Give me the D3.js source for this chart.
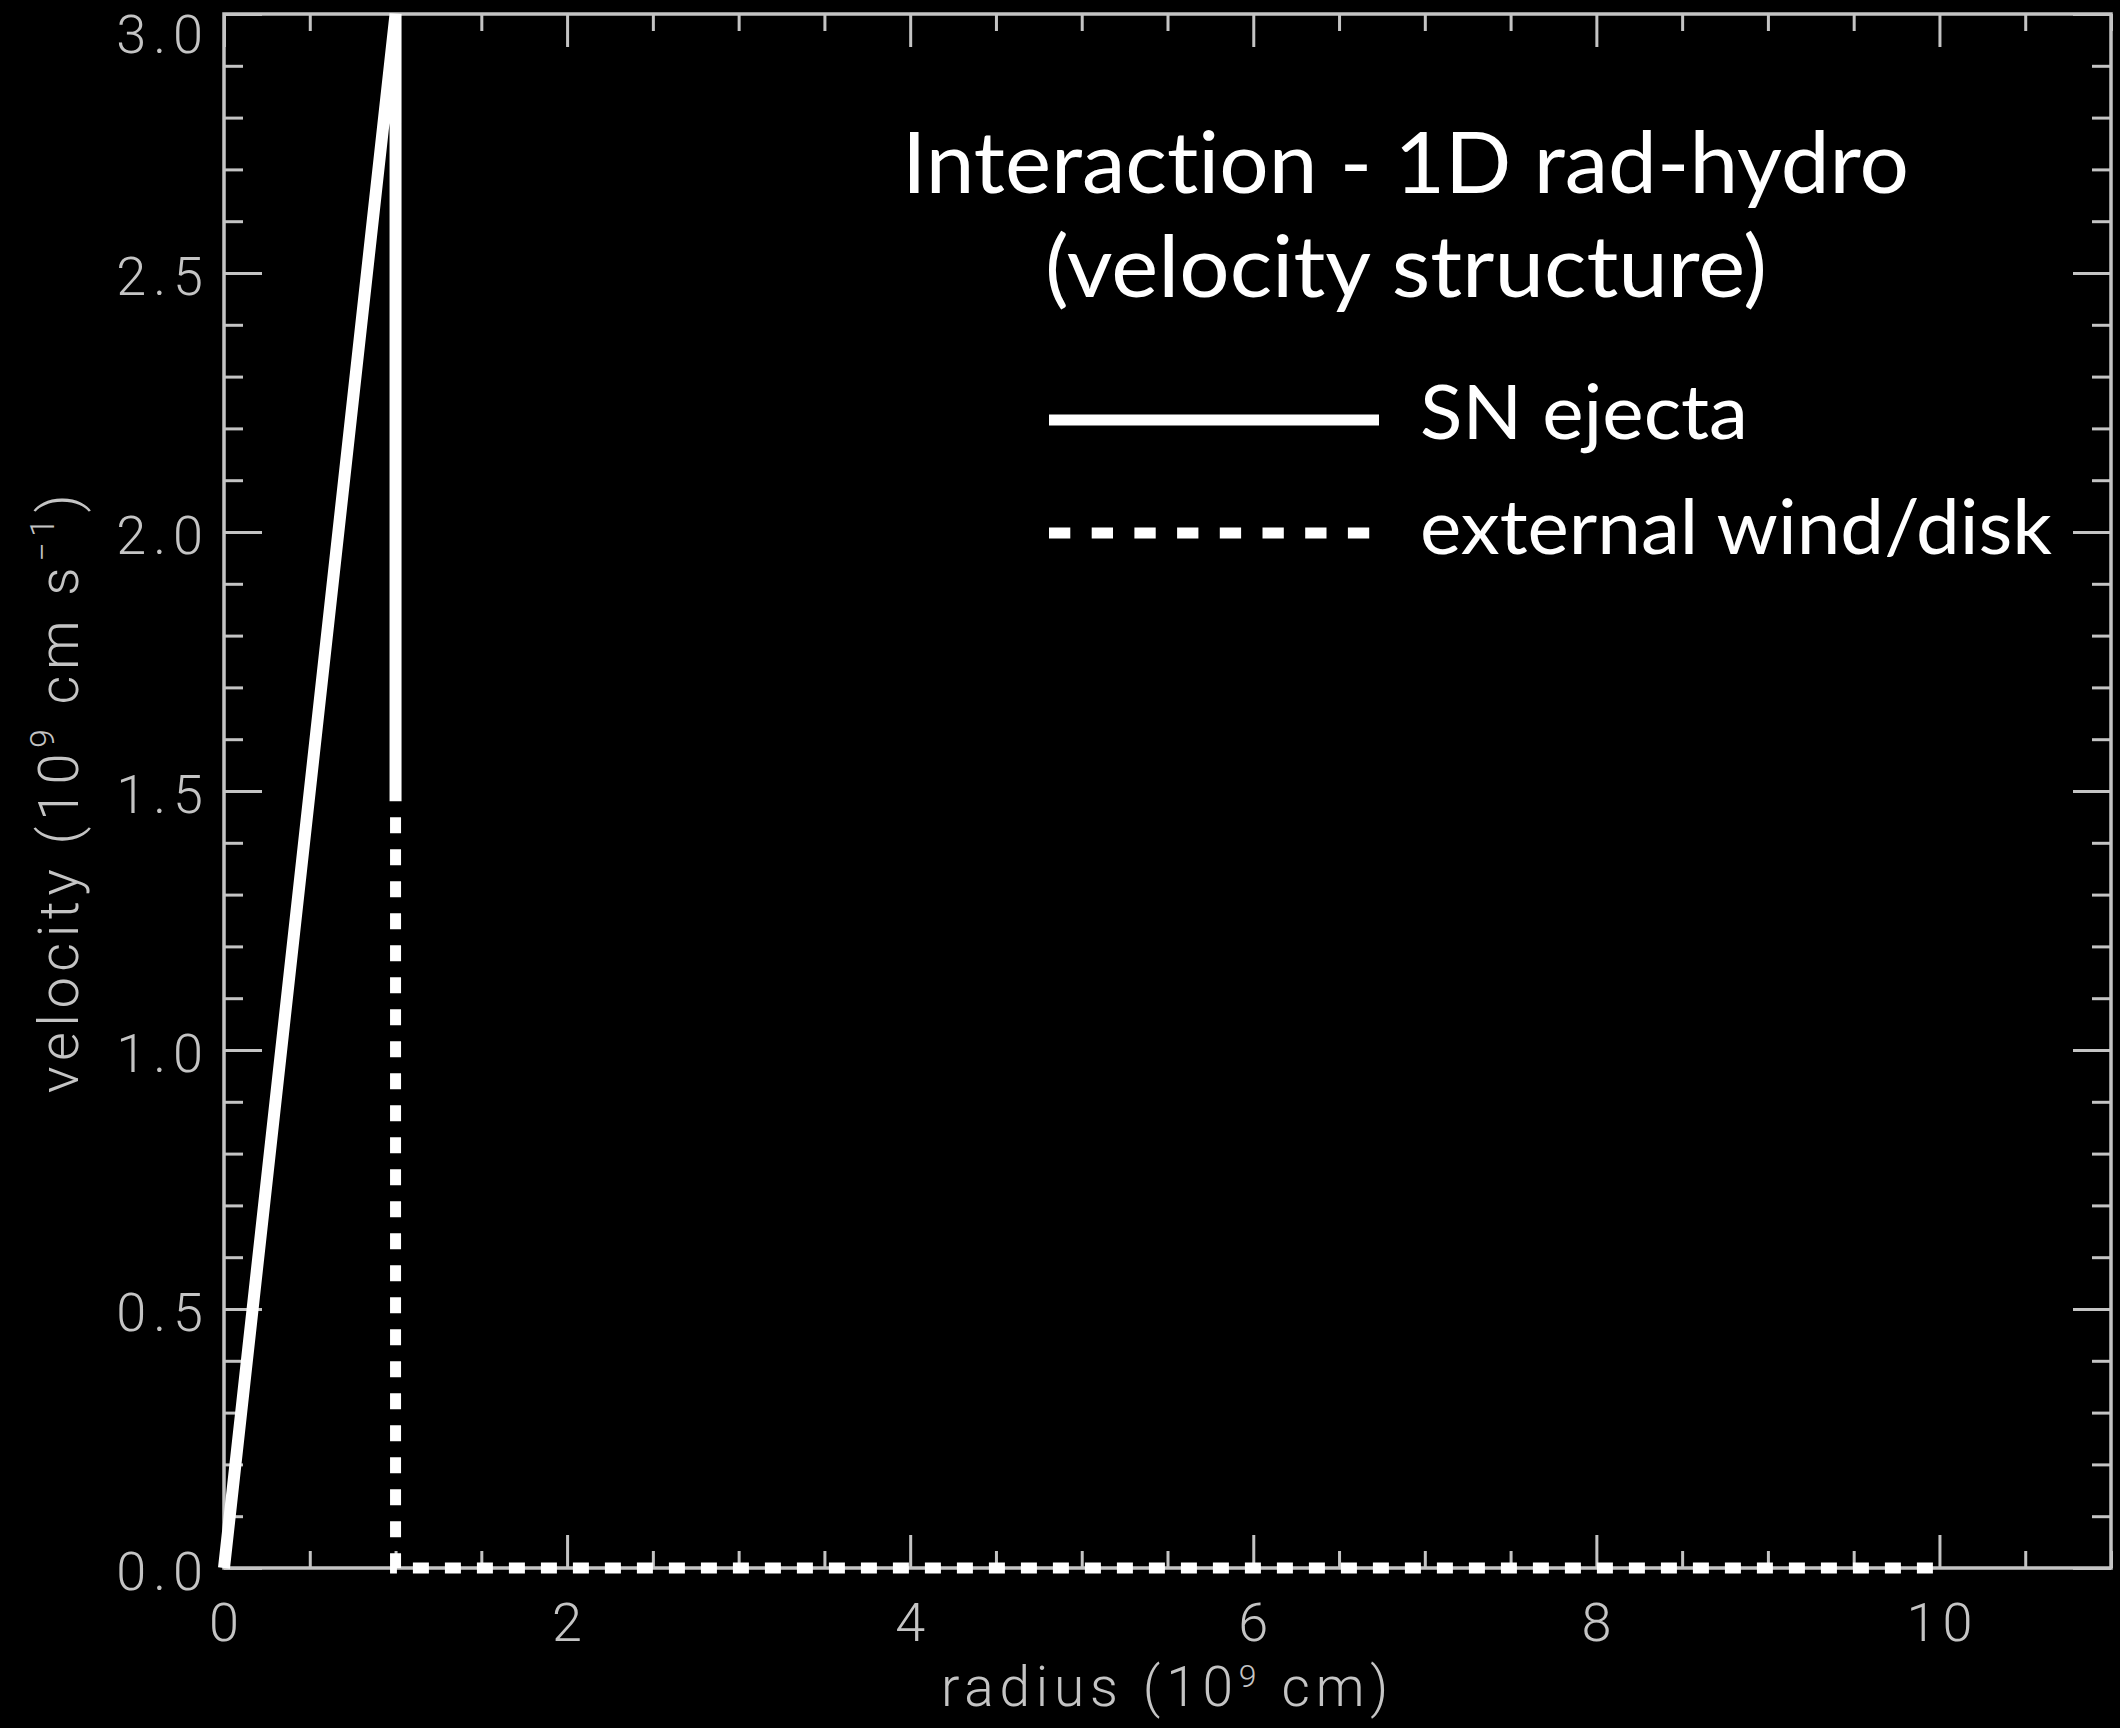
<!DOCTYPE html>
<html>
<head>
<meta charset="utf-8">
<script src="https://cdn.jsdelivr.net/npm/d3@7"></script>
<style>
  html, body { margin: 0; padding: 0; background: #000; }
  svg { display: block; }
  .title { font-variant-ligatures: none; }
</style>
</head>
<body>
<svg id="chart" width="2120" height="1728"></svg>
<script>
// Velocity structure of the SN ejecta and the external wind/disk (1D rad-hydro run)
const ejectaRadius   = [0.0, 1.0, 1.0];
const ejectaVelocity = [0.0, 3.0, 1.48];

const windRadius   = [1.0, 1.0, 10.0];
const windVelocity = [1.48, 0.0, 0.0];

const xMajorTicks = [0, 2, 4, 6, 8, 10];
const xTickLabels = ["0", "2", "4", "6", "8", "10"];
const yMajorTicks = [0.0, 0.5, 1.0, 1.5, 2.0, 2.5, 3.0];
const yTickLabels = ["0.0", "0.5", "1.0", "1.5", "2.0", "2.5", "3.0"];

const titleLines  = ["Interaction - 1D rad-hydro", "(velocity structure)"];
const legendNames = ["SN ejecta", "external wind/disk"];

const W = 2120, H = 1728;
const svg = d3.select("#chart").attr("width", W).attr("height", H);
svg.append("rect").attr("width", W).attr("height", H).attr("fill", "#000");

const x = d3.scaleLinear().domain([0, 11]).range([224, 2111]);
const y = d3.scaleLinear().domain([0, 3]).range([1568, 14]);

const axisColor = "#c4c4c4";
const labelFont = "Roboto, 'DejaVu Sans', sans-serif";

// minor ticks every 0.5 in radius and 0.1 in velocity
const xMinor = d3.range(0, 11.001, 0.5).filter(v => Math.abs(v / 2 - Math.round(v / 2)) > 1e-6);
const yMinor = d3.range(0, 3.0001, 0.1).map(v => +v.toFixed(1))
  .filter(v => Math.abs(v * 2 - Math.round(v * 2)) > 1e-6);

function styleAxis(g) {
  g.select(".domain").remove();
  g.selectAll(".tick line").attr("stroke", axisColor).attr("stroke-width", 3);
  g.selectAll(".tick text").remove();
}

const [x0, x1] = x.range();
const [yb, yt] = y.range();

// bottom and top axes (ticks point inward)
svg.append("g").attr("transform", `translate(0,${yb})`)
  .call(d3.axisBottom(x).tickValues(xMajorTicks).tickSize(-33).tickSizeOuter(0).tickFormat(""))
  .call(styleAxis);
svg.append("g").attr("transform", `translate(0,${yb})`)
  .call(d3.axisBottom(x).tickValues(xMinor).tickSize(-17).tickSizeOuter(0).tickFormat(""))
  .call(styleAxis);
svg.append("g").attr("transform", `translate(0,${yt})`)
  .call(d3.axisTop(x).tickValues(xMajorTicks).tickSize(-33).tickSizeOuter(0).tickFormat(""))
  .call(styleAxis);
svg.append("g").attr("transform", `translate(0,${yt})`)
  .call(d3.axisTop(x).tickValues(xMinor).tickSize(-17).tickSizeOuter(0).tickFormat(""))
  .call(styleAxis);

// left and right axes
svg.append("g").attr("transform", `translate(${x0},0)`)
  .call(d3.axisLeft(y).tickValues(yMajorTicks).tickSize(-38).tickSizeOuter(0).tickFormat(""))
  .call(styleAxis);
svg.append("g").attr("transform", `translate(${x0},0)`)
  .call(d3.axisLeft(y).tickValues(yMinor).tickSize(-19).tickSizeOuter(0).tickFormat(""))
  .call(styleAxis);
svg.append("g").attr("transform", `translate(${x1},0)`)
  .call(d3.axisRight(y).tickValues(yMajorTicks).tickSize(-38).tickSizeOuter(0).tickFormat(""))
  .call(styleAxis);
svg.append("g").attr("transform", `translate(${x1},0)`)
  .call(d3.axisRight(y).tickValues(yMinor).tickSize(-19).tickSizeOuter(0).tickFormat(""))
  .call(styleAxis);

// plot frame
svg.append("rect")
  .attr("x", x0).attr("y", yt).attr("width", x1 - x0).attr("height", yb - yt)
  .attr("fill", "none").attr("stroke", axisColor).attr("stroke-width", 3.5);

// tick labels
svg.append("g").selectAll("text").data(xMajorTicks).join("text")
  .attr("x", d => x(d) + 3).attr("y", 1622)
  .attr("text-anchor", "middle").attr("dominant-baseline", "central")
  .attr("font-family", labelFont).attr("font-weight", 300).attr("font-size", 54)
  .attr("letter-spacing", 6)
  .attr("fill", axisColor)
  .text((d, i) => xTickLabels[i]);

svg.append("g").selectAll("text").data(yMajorTicks).join("text")
  .attr("x", 210).attr("y", d => Math.max(y(d) + 3, 34))
  .attr("text-anchor", "end").attr("dominant-baseline", "central")
  .attr("font-family", labelFont).attr("font-weight", 300).attr("font-size", 54)
  .attr("letter-spacing", 7)
  .attr("fill", axisColor)
  .text((d, i) => yTickLabels[i]);

// axis titles
const xTitle = svg.append("text")
  .attr("x", (x0 + x1) / 2).attr("y", 1706)
  .attr("text-anchor", "middle")
  .attr("font-family", labelFont).attr("font-weight", 300).attr("font-size", 55)
  .attr("letter-spacing", 5.8)
  .attr("fill", axisColor);
xTitle.append("tspan").text("radius (10");
xTitle.append("tspan").attr("font-size", 32).attr("dy", -19).text("9");
xTitle.append("tspan").attr("dy", 19).text(" cm)");

const yTitle = svg.append("text")
  .attr("transform", `translate(78,${(yt + yb) / 2}) rotate(-90)`)
  .attr("text-anchor", "middle")
  .attr("font-family", labelFont).attr("font-weight", 300).attr("font-size", 56)
  .attr("letter-spacing", 5.5)
  .attr("fill", axisColor);
yTitle.append("tspan").text("velocity (10");
yTitle.append("tspan").attr("font-size", 34).attr("dy", -24).text("9");
yTitle.append("tspan").attr("dy", 24).text(" cm s");
yTitle.append("tspan").attr("font-size", 34).attr("dy", -24).text("\u22121");
yTitle.append("tspan").attr("dy", 24).text(")");

// data curves
const line = d3.line().x(d => x(d[0])).y(d => y(d[1]));
const ejecta = ejectaRadius.map((r, i) => [r, ejectaVelocity[i]]);
const wind = windRadius.map((r, i) => [r, windVelocity[i]]);

const plot = svg.append("g");
plot.append("path").datum(ejecta).attr("d", line)
  .attr("fill", "none").attr("stroke", "#fff").attr("stroke-width", 12)
  .attr("stroke-linejoin", "miter").attr("stroke-linecap", "butt");
plot.append("path").datum(wind).attr("d", line)
  .attr("fill", "none").attr("stroke", "#fff").attr("stroke-width", 11)
  .attr("stroke-dasharray", "16 16").attr("stroke-dashoffset", 16)
  .attr("stroke-linecap", "butt");

// title
const titleFont = "Lato, 'Open Sans', sans-serif";
svg.append("text").attr("class", "title").attr("x", 902).attr("y", 193)
  .attr("font-family", titleFont).attr("font-size", 86).attr("fill", "#fff")
  .attr("textLength", 1007).attr("lengthAdjust", "spacingAndGlyphs")
  .text(titleLines[0]);
svg.append("text").attr("class", "title").attr("x", 1045).attr("y", 297)
  .attr("font-family", titleFont).attr("font-size", 86).attr("fill", "#fff")
  .attr("textLength", 722).attr("lengthAdjust", "spacingAndGlyphs")
  .text(titleLines[1]);

// legend
const legend = svg.append("g");
legend.append("line").attr("x1", 1049).attr("x2", 1379).attr("y1", 420).attr("y2", 420)
  .attr("stroke", "#fff").attr("stroke-width", 11);
legend.append("line").attr("x1", 1049).attr("x2", 1370).attr("y1", 533).attr("y2", 533)
  .attr("stroke", "#fff").attr("stroke-width", 11).attr("stroke-dasharray", "21.3 21.4");
legend.append("text").attr("class", "title").attr("x", 1420).attr("y", 439)
  .attr("font-family", titleFont).attr("font-size", 76).attr("fill", "#fff")
  .attr("textLength", 328).attr("lengthAdjust", "spacingAndGlyphs")
  .text(legendNames[0]);
legend.append("text").attr("class", "title").attr("x", 1420).attr("y", 554)
  .attr("font-family", titleFont).attr("font-size", 76).attr("fill", "#fff")
  .attr("textLength", 632).attr("lengthAdjust", "spacingAndGlyphs")
  .text(legendNames[1]);
</script>
</body>
</html>
